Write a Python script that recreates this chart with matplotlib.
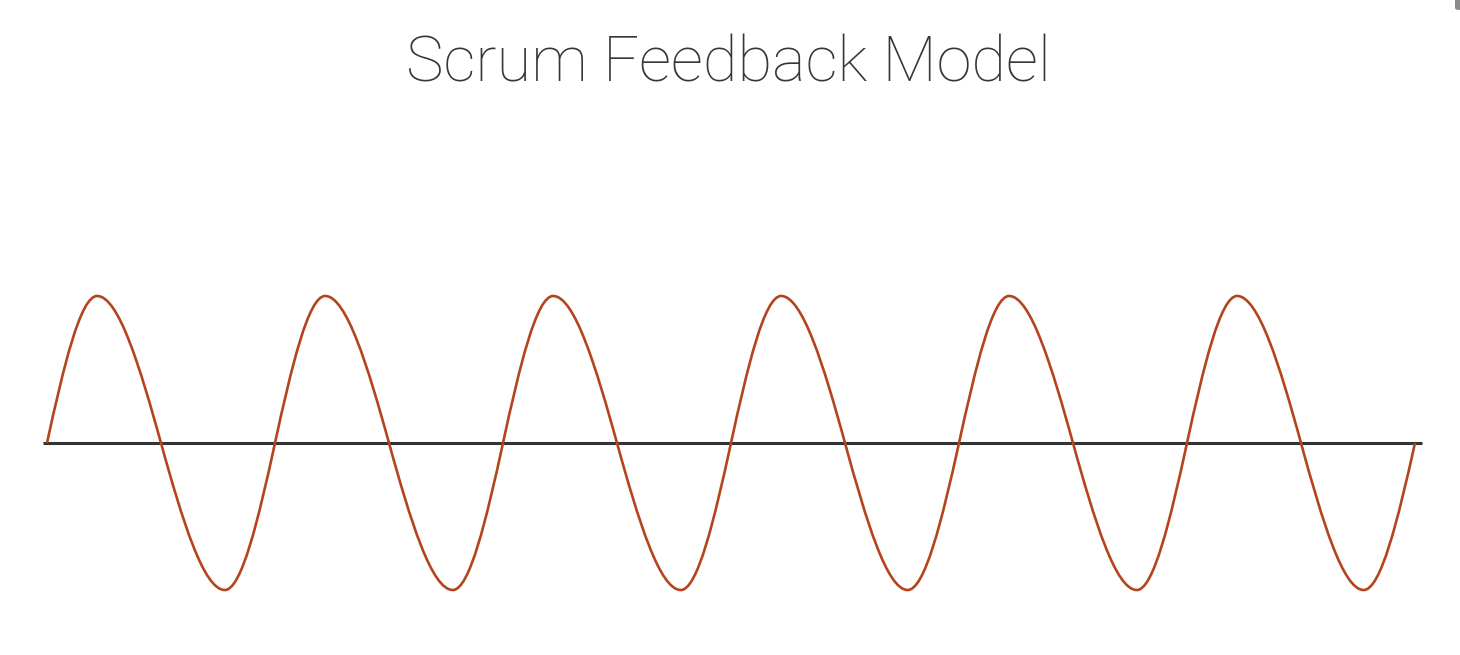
import matplotlib
matplotlib.use("Agg")
import matplotlib.pyplot as plt
from matplotlib.path import Path
from matplotlib.patches import PathPatch, FancyBboxPatch

# Key points of the feedback wave (zero, peak, zero, trough, ...), 6 cycles;
# peaks come a little early and troughs a little late in each cycle
phase = [0, 0.88, 2.0, 3.12, 4.0, 4.88, 6.0, 7.12, 8.0, 8.88, 10.0, 11.12,
         12.0, 12.88, 14.0, 15.1, 16.0, 16.88, 18.0, 19.12, 20.0, 20.88,
         22.0, 23.1, 24.0]
level = [0, 1, 0, -1] * 6 + [0]
title = "Scrum Feedback Model"

wave_color = "#B4441E"
axis_color = "#333333"
# how round the wave is between key points (1 = plain catmull-rom)
tension = 1.57

fig = plt.figure(figsize=(14.6, 6.55), dpi=100)
ax = fig.add_axes([0, 0, 1, 1])
ax.set_xlim(-47 / 57, 24 + 45 / 57)
ax.set_ylim(-212 / 147, 443 / 147)
ax.axis("off")

# slopes at each key point from neighbours
n = len(phase)
slopes = []
for i in range(n):
    a = max(i - 1, 0)
    b = min(i + 1, n - 1)
    slopes.append(tension * (level[b] - level[a]) / (phase[b] - phase[a]))

verts = [(phase[0], level[0])]
codes = [Path.MOVETO]
for i in range(n - 1):
    dx = phase[i + 1] - phase[i]
    verts += [
        (phase[i] + dx / 3, level[i] + slopes[i] * dx / 3),
        (phase[i + 1] - dx / 3, level[i + 1] - slopes[i + 1] * dx / 3),
        (phase[i + 1], level[i + 1]),
    ]
    codes += [Path.CURVE4] * 3

# baseline
ax.plot([phase[0] - 0.07, phase[-1] + 0.12], [0, 0], color=axis_color,
        linewidth=2.2, solid_capstyle="butt", zorder=1)
ax.add_patch(PathPatch(Path(verts, codes), facecolor="none",
                       edgecolor=wave_color, linewidth=1.9, zorder=2))

fig.text(0.4993, 1 - 82 / 655, title, ha="center", va="baseline",
         fontsize=45.5, family="Roboto", fontweight="light", color="#363636")

# scrollbar corner seen at top right of the screenshot
fig.patches.append(FancyBboxPatch((1455 / 1460, 1 - 10 / 655), 0.01, 0.03,
                                  boxstyle="round,pad=0,rounding_size=0.003",
                                  transform=fig.transFigure, facecolor="#8a8a8a",
                                  edgecolor="none"))

fig.savefig("out.png", dpi=100, facecolor="white")
